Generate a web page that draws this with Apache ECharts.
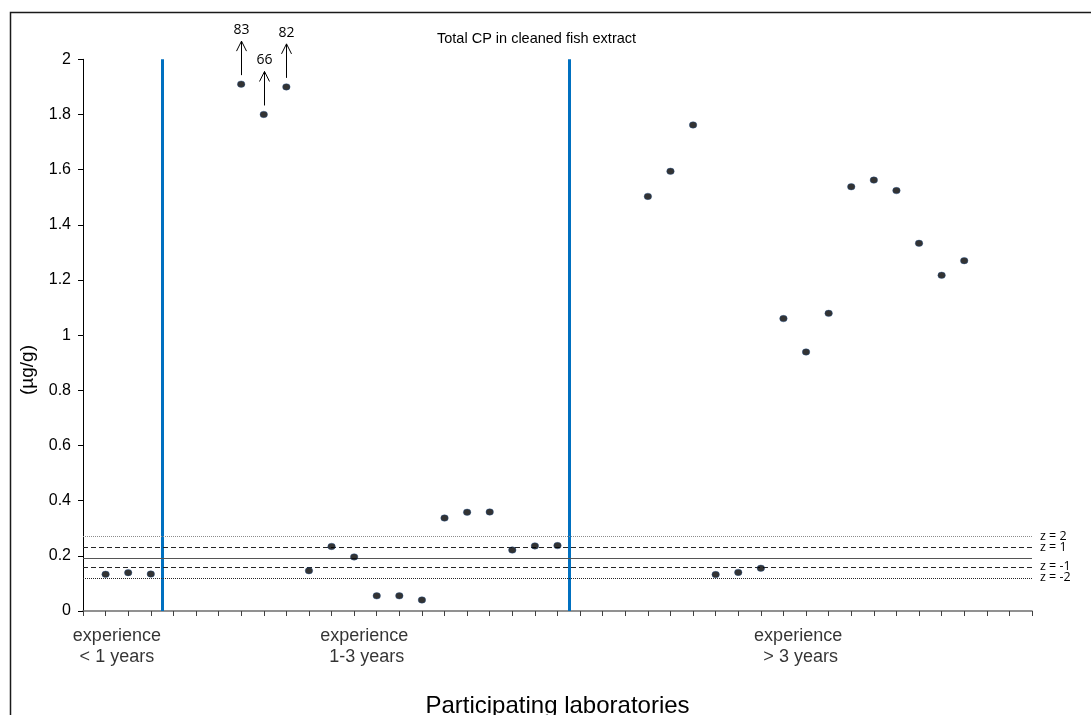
<!DOCTYPE html>
<html>
<head>
<meta charset="utf-8">
<title>Total CP in cleaned fish extract</title>
<script src="https://cdn.jsdelivr.net/npm/echarts@6/dist/echarts.min.js"></script>
<style>
  html, body { margin: 0; padding: 0; background: #fff; }
  #chart { width: 1091px; height: 715px; }
</style>
</head>
<body>
<div id="chart"></div>
<script>
// Laboratory positions along the x axis (lab number) and reported total CP (µg/g)
const labsUnder1 = [1, 2, 3];
const valuesUnder1 = [0.133, 0.139, 0.134];

const labs1to3 = [7, 8, 9, 10, 11, 12, 13, 14, 15, 16, 17, 18, 19, 20, 21];
const values1to3 = [1.91, 1.80, 1.90, 0.146, 0.234, 0.196, 0.055, 0.055, 0.040, 0.337, 0.358, 0.359, 0.221, 0.236, 0.237];

const labsOver3 = [25, 26, 27, 28, 29, 30, 31, 32, 33, 34, 35, 36, 37, 38, 39];
const valuesOver3 = [1.503, 1.594, 1.762, 0.132, 0.140, 0.155, 1.060, 0.939, 1.079, 1.538, 1.562, 1.524, 1.333, 1.217, 1.270];

// Results far above the axis range: plotted near the top, with the real value written above an arrow
const offScaleLabs = [7, 8, 9];
const offScaleShown = [1.91, 1.80, 1.90];
const offScaleActual = ['83', '66', '82'];

// Assigned value and z-score limits
const assignedValue = 0.193;
const zValues = [0.267, 0.230, 0.156, 0.119];
const zLabels = ['z = 2', 'z = 1', 'z = -1', 'z = -2'];

// Experience group separators and labels
const groupBoundaries = [3.5, 21.5];
const groupLabels = ['experience\n< 1 years', 'experience\n 1-3 years', 'experience\n > 3 years'];
const groupLabelAt = [1.5, 12.45, 31.65];

const yTicks = { min: 0, max: 2, interval: 0.2 };
const labCount = 42;

const titleText = 'Total CP in cleaned fish extract';
const yName = '(µg/g)';
const xName = 'Participating laboratories';

const pairs = (xs, ys) => xs.map((x, i) => [x, ys[i]]);

const dotStyle = {
  type: 'scatter',
  symbol: 'circle',
  symbolSize: [7.5, 6.5],
  itemStyle: { color: '#000000', borderColor: '#1f4e8c', borderWidth: 0.5 },
  z: 5
};

const zLineStyles = [
  { type: [1, 1], color: '#8c8c8c', width: 1 },
  { type: [5, 3], color: '#262626', width: 1 },
  { type: [5, 3], color: '#262626', width: 1 },
  { type: [1, 1], color: '#262626', width: 1 }
];

const chart = echarts.init(document.getElementById('chart'), null, { renderer: 'canvas' });

const option = {
  animation: false,
  backgroundColor: '#ffffff',
  title: {
    text: titleText,
    left: 432,
    top: 26,
    textStyle: { fontFamily: 'Liberation Sans, Arial, sans-serif', fontSize: 14.5, fontWeight: 'normal', color: '#000' }
  },
  grid: {
    left: 83, right: 59, top: 59.3, bottom: 104,
    containLabel: false,
    outerBoundsMode: 'none'
  },
  xAxis: {
    type: 'value',
    min: 0,
    max: labCount,
    interval: 1,
    name: xName,
    nameLocation: 'middle',
    nameGap: 83,
    nameTextStyle: { fontFamily: 'Liberation Sans, Arial, sans-serif', fontSize: 24, color: '#000' },
    axisLine: { show: true, onZero: false, lineStyle: { color: '#6e6e6e', width: 1.6 } },
    axisTick: { show: true, inside: false, length: 5, lineStyle: { color: '#404040', width: 1 } },
    axisLabel: { show: false },
    splitLine: { show: false }
  },
  yAxis: {
    type: 'value',
    min: yTicks.min,
    max: yTicks.max,
    interval: yTicks.interval,
    axisLine: { show: true, lineStyle: { color: '#000', width: 1 } },
    axisTick: { show: true, inside: false, length: 5, lineStyle: { color: '#000', width: 1 } },
    axisLabel: {
      margin: 12,
      color: '#000',
      fontFamily: 'Liberation Sans, Arial, sans-serif',
      fontSize: 16
    },
    splitLine: { show: false }
  },
  graphic: [
    {
      type: 'rect',
      shape: { x: 10.5, y: 12.5, width: 1200, height: 800 },
      style: { fill: 'none', stroke: '#1a1a1a', lineWidth: 1.5 },
      silent: true,
      z: 0
    },
    {
      type: 'text',
      x: 28,
      y: 370,
      rotation: Math.PI / 2,
      style: {
        text: yName,
        align: 'center',
        verticalAlign: 'middle',
        font: '19px "Liberation Sans", Arial, sans-serif',
        fill: '#000'
      },
      silent: true
    }
  ],
  series: [
    Object.assign({ name: '< 1 years', data: pairs(labsUnder1, valuesUnder1) }, dotStyle, {
      markLine: {
        silent: true,
        symbol: 'none',
        label: { show: false },
        lineStyle: { color: '#0070c0', width: 3, type: 'solid' },
        data: groupBoundaries.map(v => ({ xAxis: v }))
      }
    }),
    Object.assign({ name: '1-3 years', data: pairs(labs1to3, values1to3) }, dotStyle, {
      markLine: {
        silent: true,
        symbol: 'none',
        data: [
          {
            yAxis: assignedValue,
            lineStyle: { type: 'solid', color: '#555555', width: 1.2 },
            label: { show: false }
          }
        ].concat(zValues.map((v, i) => ({
          yAxis: v,
          lineStyle: zLineStyles[i],
          label: {
            show: true,
            position: 'end',
            distance: 8,
            formatter: zLabels[i],
            color: '#000',
            fontFamily: '"Open Sans", "Liberation Sans", sans-serif',
            fontSize: 12.5
          }
        })))
      }
    }),
    Object.assign({ name: '> 3 years', data: pairs(labsOver3, valuesOver3) }, dotStyle),
    {
      name: 'groups',
      type: 'scatter',
      clip: false,
      silent: true,
      symbolSize: 0,
      data: groupLabelAt.map((x, i) => ({ value: [x, 0], name: groupLabels[i] })),
      label: {
        show: true,
        position: 'bottom',
        distance: 14.5,
        formatter: p => p.name,
        align: 'center',
        color: '#000',
        fontFamily: 'Liberation Sans, Arial, sans-serif',
        fontSize: 18,
        lineHeight: 21
      }
    },
    {
      name: 'off-scale',
      type: 'custom',
      clip: false,
      silent: true,
      data: offScaleLabs.map((x, i) => [x, offScaleShown[i], offScaleActual[i]]),
      renderItem: (params, api) => {
        const p = api.coord([api.value(0), api.value(1)]);
        const x = Math.round(p[0]) + 0.5;
        const bottom = p[1] - 9;
        const top = p[1] - 43;
        const stroke = { stroke: '#000', lineWidth: 1, fill: 'none' };
        return {
          type: 'group',
          children: [
            { type: 'line', shape: { x1: x, y1: bottom, x2: x, y2: top }, style: stroke },
            { type: 'polyline', shape: { points: [[x - 5, top + 10], [x, top], [x + 5, top + 10]] }, style: stroke },
            {
              type: 'text',
              style: {
                text: offScaleActual[params.dataIndex],
                x: x,
                y: top - 11,
                align: 'center',
                verticalAlign: 'middle',
                font: '14px "Open Sans", "Liberation Sans", sans-serif',
                fill: '#000'
              }
            }
          ]
        };
      }
    }
  ]
};

chart.setOption(option);
</script>
</body>
</html>
